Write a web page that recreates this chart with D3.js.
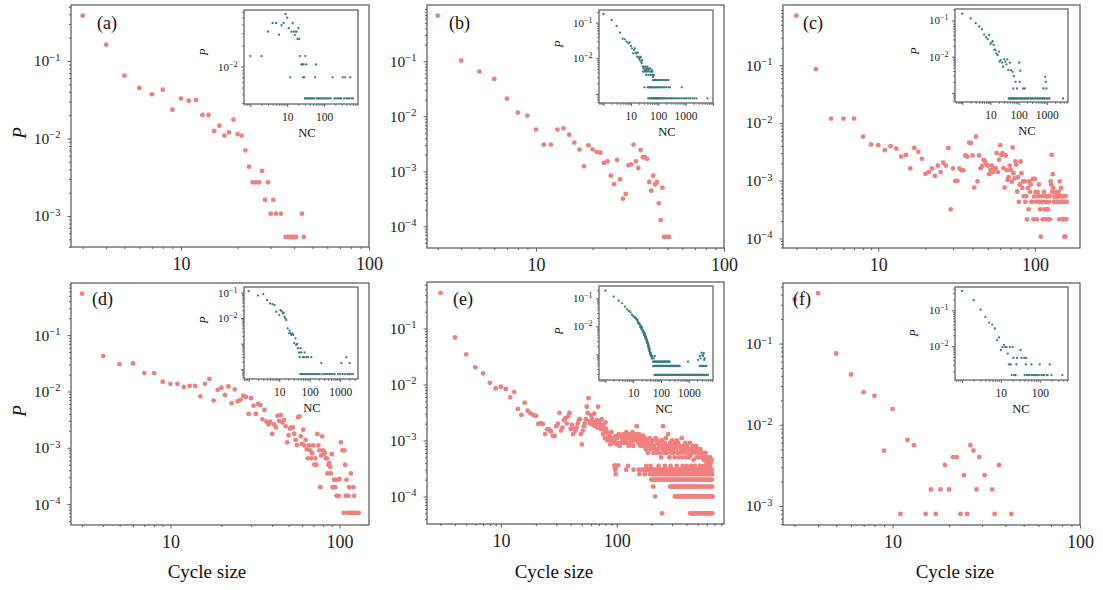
<!DOCTYPE html>
<html>
<head>
<meta charset="utf-8">
<script src="https://d3js.org/d3.v7.min.js"></script>
<style>
  body { margin: 0; background: #fff; }
  svg, svg text { font-family: "Liberation Serif", "DejaVu Serif", "Times New Roman", serif; }
</style>
</head>
<body>
<svg id="chart" width="1103" height="590" font-family="Liberation Serif, DejaVu Serif, serif"></svg>
<script>
// ---- data: [cycle size, P] for the main panels, [NC, P] for the insets ----
const aMain = [[3,.385],[4,.163],[5,.0647],[6,.0449],[7,.0372],[8,.0427],[9,.0235],[10,.0327],[11,.0307],[12,.0314],[13,.0201],[14,.0201],[15,.0125],[16,.0146],[17,.0109],[18,.012],[19,.0175],[20,.0114],[21,.0109],[22,.00703],[23,.00433],[24,.00272],[25,.00272],[26,.00272],[27,.00381],[28,.00161],[29,.00272],[30,.00107],[31,.00161],[32,.00107],[34,.00107],[36,.000536],[37,.000536],[38,.000536],[39,.000536],[40,.000536],[41,.000536],[44,.00107],[45,.000536]];

const bMain = [[3,.676],[4,.103],[5,.0649],[6,.0477],[7,.0209],[8,.0117],[9,.0103],[10,.00573],[11,.00306],[12,.00306],[13,.00573],[14,.00605],[15,.00464],[16,.00332],[17,.00248],[18,.00123],[19,.00297],[20,.00251],[21,.00225],[22,.00218],[23,.00142],[24,.00152],[25,.000834],[26,.000581],[27,.00161],[28,.000716],[29,.000318],[30,.000387],[31,.00129],[32,.00134],[33,.00306],[34,.00152],[35,.00115],[36,.00244],[37,.0018],[38,.0018],[39,.00168],[40,.00064],[41,.000445],[42,.000834],[43,.000581],[44,.00064],[45,.000262],[46,.00013],[47,.000504],[48,.000064],[49,.000064],[50,.000064],[51,.000064]];

const cMain = [[3,.72],[4,.0853],[5,.0119],[6,.0119],[7,.0119],[8,.00582],[9,.00424],[10,.00412],[11,.00338],[12,.00396],[13,.0036],[14,.00262],[15,.0028],[16,.00163],[17,.0037],[18,.00316],[19,.00239],[20,.00131],[21,.00141],[22,.00163],[23,.00121],[24,.00183],[25,.00141],[26,.00205],[27,.00183],[28,.0037],[29,.00032],[30,.00163],[31,.00099],[32,.00099],[33,.00163],[34,.00151],[35,.00151],[36,.00273],[37,.00262],[38,.00458],[39,.00447],[40,.00273],[41,.00076],[42,.0058],[43,.00097],[44,.00273],[45,.00165],[46,.0018],[47,.0023],[48,.00215],[49,.0019],[50,.00183],[51,.0013],[52,.00154],[53,.00183],[54,.00141],[55,.00165],[56,.00165],[57,.003],[58,.00141],[59,.0023],[60,.00412],[61,.0028],[62,.003],[63,.00165],[64,.00076],[65,.00273],[66,.00154],[67,.00103],[68,.00115],[69,.00183],[70,.00154],[71,.00096],[72,.00376],[73,.00135],[74,.0011],[75,.00215],[76,.0019],[77,.00065],[78,.00115],[79,.00043],[80,.00086],[81,.00215],[82,.00135],[83,.00075],[84,.00097],[85,.00054],[86,.00097],[87,.00043],[88,.00054],[89,.000214],[90,.00075],[91,.00032],[92,.00097],[93,.00064],[94,.00086],[95,.00043],[96,.00043],[97,.00107],[98,.000214],[99,.000535],[100,.00107],[101,.00064],[102,.00043],[103,.000214],[104,.00064],[105,.00054],[106,.00086],[107,.00043],[108,.00032],[109,.000107],[110,.00043],[111,.00054],[112,.000214],[113,.00043],[114,.00064],[115,.00032],[116,.00054],[117,.000214],[118,.00043],[119,.00032],[120,.000535],[121,.00032],[122,.000214],[123,.00043],[124,.00054],[125,.000214],[126,.00097],[127,.00086],[128,.0028],[129,.00064],[130,.0013],[131,.00075],[132,.00043],[133,.000535],[134,.00043],[135,.00054],[136,.000535],[137,.00064],[138,.00043],[139,.000535],[140,.00043],[141,.000535],[142,.00064],[143,.000214],[144,.00097],[145,.00054],[146,.00043],[147,.00075],[148,.00043],[149,.00054],[150,.000214],[151,.00043],[152,.00054],[153,.000214],[154,.000107],[155,.00043],[156,.000107],[157,.00054],[158,.00043],[159,.000214],[160,.00043]];

const dMain = [[3,.547],[4,.0425],[5,.0306],[6,.0315],[7,.0212],[8,.0212],[9,.0149],[10,.0137],[11,.0137],[12,.012],[13,.0125],[14,.0125],[15,.0082],[16,.0137],[17,.0168],[18,.0069],[19,.0107],[20,.0117],[21,.0087],[22,.0123],[23,.0062],[24,.0109],[25,.0067],[26,.0071],[27,.0084],[28,.008],[29,.004],[30,.0076],[31,.0056],[32,.004],[33,.006],[34,.0057],[35,.0032],[36,.0047],[37,.0029],[38,.0026],[39,.0029],[40,.00176],[41,.0026],[42,.0023],[43,.0037],[44,.003],[45,.0038],[46,.0028],[47,.0031],[48,.0024],[49,.00125],[50,.00167],[51,.0022],[52,.0023],[53,.0023],[54,.00176],[55,.00138],[56,.00112],[57,.0035],[58,.0036],[59,.0016],[60,.00117],[61,.0021],[62,.0011],[63,.00138],[64,.00094],[65,.00065],[66,.0011],[67,.0009],[68,.00065],[69,.0008],[70,.0011],[71,.0005],[72,.00065],[73,.0005],[74,.00176],[75,.0011],[76,.0009],[77,.0002],[78,.00073],[79,.0016],[80,.0009],[81,.00077],[82,.00082],[83,.00065],[84,.00065],[85,.00035],[86,.0005],[87,.00054],[88,.00046],[89,.00035],[90,.00077],[91,.0002],[92,.0002],[93,.00027],[94,.0002],[95,.00027],[96,.00014],[97,.00027],[99,.00014],[100,.00028],[102,.00125],[104,.0009],[106,.00007],[107,.0009],[108,.0005],[109,.00014],[110,.00027],[111,.00014],[112,.00007],[113,.00014],[114,.0002],[115,.00007],[117,.00035],[118,.00007],[120,.00007],[121,.0002],[122,.00014],[123,.00007],[126,.00007],[130,.00007]];

const eHead = [[3,.432],[4,.069],[5,.0344],[6,.0202],[7,.0158],[8,.0107],[9,.0085],[10,.0091],[11,.0083],[12,.0059],[13,.0073],[14,.00365],[15,.00285],[16,.00473],[17,.0034],[18,.00305],[19,.00285],[20,.00274],[21,.00197],[22,.00203],[23,.00197],[24,.0013],[25,.00158],[26,.00158],[27,.00145],[28,.00121],[29,.0012],[30,.0018],[31,.002],[32,.0031],[33,.0015],[34,.0017],[35,.0023],[36,.0025],[37,.002],[38,.0027],[39,.0031],[40,.0016],[41,.0019],[42,.0013],[43,.0016],[44,.0015],[45,.0017],[46,.002],[47,.0023],[48,.0024],[49,.0013],[50,.00085],[51,.0015],[52,.0018],[53,.002],[54,.0024],[55,.004],[56,.0031],[57,.0057],[58,.0022],[59,.002],[60,.0028],[61,.0024],[62,.0019],[63,.0021],[64,.003],[65,.0018],[66,.0021],[67,.0023],[68,.0017],[69,.004],[70,.002],[71,.0022],[72,.0019],[73,.0016],[74,.0024],[75,.0019],[76,.0013],[77,.0018],[78,.0015],[79,.0011],[80,.0021],[81,.0016],[82,.0014],[83,.001],[84,.0013],[85,.0011],[86,.0012],[88,.00085],[89,.001],[90,.0014],[91,.0011],[93,.00092],[95,.001],[96,.00036],[97,.00031],[98,.0012],[99,.0009],[100,.00085]];

const eTail = [[101,.0011],[103,.00036],[104,.0013],[106,.0008],[107,.0009],[109,.0012],[111,.0011],[113,.001],[114,.0013],[116,.0009],[117,.0012],[119,.001],[121,.0014],[122,.0011],[124,.0009],[126,.0012],[127,.0008],[129,.0011],[131,.0013],[132,.001],[134,.0009],[136,.0012],[137,.0014],[139,.0008],[141,.0011],[143,.001],[145,.0013],[147,.0012],[149,.0018],[151,.001],[153,.0011],[154,.0009],[156,.0013],[158,.001],[160,.0008],[162,.0012],[164,.0011],[166,.0009],[168,.001],[170,.0012],[172,.0008],[174,.00095],[177,.0011],[179,.0007],[181,.0009],[183,.001],[186,.0006],[188,.0008],[190,.00085],[193,.0011],[196,.0007],[198,.0009],[201,.00075],[204,.001],[207,.0006],[210,.0008],[213,.0007],[216,.0011],[219,.0006],[222,.0009],[225,.001],[228,.0007],[232,.0008],[235,.0006],[238,.0009],[242,.0005],[245,.001],[249,.0007],[251,.0018],[253,.0008],[257,.0006],[260,.0009],[263,.0007],[266,.0011],[270,.0006],[274,.0008],[278,.0013],[281,.0007],[285,.0005],[289,.0009],[293,.0006],[297,.0008],[301,.001],[305,.0007],[309,.0006],[313,.0009],[317,.0005],[322,.0008],[326,.0007],[330,.001],[335,.0006],[339,.0009],[344,.0005],[349,.0008],[354,.0006],[359,.0007],[364,.0011],[369,.0005],[374,.0008],[380,.0006],[386,.0007],[391,.0009],[397,.0005],[403,.0008],[409,.0006],[415,.0007],[421,.0005],[428,.0009],[434,.00055],[441,.0007],[448,.0006],[455,.0008],[462,.00045],[469,.0007],[477,.0006],[485,.0008],[493,.0005],[501,.0007],[509,.0006],[518,.0005],[527,.0007],[536,.0006],[545,.0005],[555,.0006],[565,.00045],[575,.0005],[585,.0006],[596,.0004],[607,.0005],[618,.00045],[629,.0004],[640,.0005],[651,.0004],[662,.00045]];

// low-count rows of panel (e): one P level each, with the sizes that sit on it
const eRowP = [5e-5, 1e-4, 1.5e-4, 2e-4, 2.5e-4, 3e-4, 3.5e-4];
const eRowSizes = [
  [246,430,437,444,451,460,468,478,488,499,510,522,535,551,563,578,592,608,622,638,655,670],
  [215,318,327,335,344,352,360,368,376,385,393,402,414,425,436,447,457,466,477,490,507,525,542,560,578,597,617,638,659,675],
  [207,290,297,303,311,317,324,333,340,347,356,363,371,381,389,397,408,421,430,442,451,463,473,485,499,512,531,548,566,586,604,624,645,668],
  [199,205,212,218,226,232,240,248,256,264,273,282,291,300,309,319,329,339,350,361,372,384,396,409,422,436,450,465,480,496,512,529,546,564,583,602,622,642,663],
  [98,157,175,194,201,209,216,224,231,239,247,255,263,271,280,289,298,307,316,326,336,346,357,368,379,391,403,415,428,441,454,468,482,497,512,527,543,559,576,593,611,629,648,667],
  [97,120,140,155,163,170,178,186,193,200,208,215,223,230,238,246,254,262,270,279,288,297,306,315,325,335,345,355,366,377,389,401,413,426,439,452,466,480,495,510,525,541,557,574,591,609,627,646,665],
  [96,125,180,196,230,260,292,330,371,402,440,472,520,561,600,640]
];

const fMain = [[3,.351],[4,.416],[5,.0754],[6,.0416],[7,.0252],[8,.0227],[9,.0048],[10,.0156],[11,.0008],[12,.0065],[13,.0056],[15,.0008],[16,.0016],[17,.0008],[18,.0016],[19,.0032],[20,.0016],[21,.004],[22,.004],[23,.0008],[24,.0024],[25,.0008],[26,.0056],[27,.0048],[28,.0016],[29,.004],[31,.0024],[34,.0016],[35,.0008],[37,.0032],[43,.0008]];

// insets: scattered points plus rows of equal P
const aInset = [[1,.0141],[2,.0141],[3,.0314],[4,.0418],[5,.0418],[6,.0284],[7,.0388],[8,.0418],[9,.0562],[10,.0498],[11,.0352],[12,.007],[13,.0314],[14,.0418],[15,.0314],[16,.0282],[17,.0314],[18,.0314],[19,.0247],[20,.0352],[21,.0247],[22,.0141],[31,.0141],[24,.0107],[26,.0107],[28,.0107],[33,.0107],[60,.0107],[27,.007],[29,.007],[57,.007],[170,.007],[320,.007],[370,.007],[510,.007]];
const aInsetRows = [[.0035,[30,32,35,37,40,43,46,50,54,63,67,72,78,85,92,100,110,120,135,150,190,210,240,270,290,350,400,440,480,550,600]]];

const bInset = [[1,.175],[2,.119],[3,.0806],[4,.0523],[5,.0355],[6,.034],[7,.0293],[8,.0263],[9,.028],[10,.0221],[11,.019],[12,.0138],[13,.0171],[14,.019],[15,.0144],[16,.0138],[17,.0111],[18,.0144],[19,.0106],[20,.01],[21,.0089],[22,.0111],[23,.0106],[24,.008],[25,.0072],[26,.0089],[27,.0058],[28,.0042],[29,.0052],[30,.0058],[32,.0047],[33,.0042],[34,.0058],[35,.0047],[36,.0034],[37,.0052],[38,.0047],[39,.0042],[40,.0058],[42,.0052],[44,.0034],[45,.0047],[47,.0042],[50,.0052],[52,.0034],[55,.0042],[58,.0047],[60,.0034],[62,.0042],[65,.003],[70,.0034]];
const bInsetRows = [
  [.00245,[64,68,75,82,90,100,110,125,140,160,185,210,234]],
  [.00153,[31,41,46,49,53,56,61,67,72,78,86,95,105,118,130,150,170,200,240,270,724]],
  [.00075,[43,48,51,54,59,63,66,69,73,77,80,84,88,92,97,103,108,115,122,135,145,155,165,180,195,220,250,280,310,350,400,450,520,600,700,820,950,1100,1300,1500,1800,2100,2500,6300]]
];

const cInset = [[1,.153],[2,.114],[3,.0843],[4,.068],[5,.0574],[6,.0408],[7,.0344],[8,.0303],[9,.04],[10,.0225],[11,.0245],[12,.0267],[13,.0211],[14,.0153],[15,.0153],[16,.0124],[18,.0111],[20,.0138],[21,.00726],[23,.00807],[26,.00681],[28,.00527],[31,.00843],[34,.00726],[37,.00612],[40,.00843],[43,.00427],[49,.00681],[53,.00427],[61,.00383],[68,.0029],[78,.00202],[89,.00132],[105,.00681],[115,.00408],[110,.00202],[65,.00132],[145,.00132],[166,.00132],[880,.00278],[920,.00202],[760,.00132],[970,.00132]];
const cInsetRows = [[.0007,[45,48,52,55,58,63,66,71,75,82,86,93,100,108,118,125,135,150,160,175,190,210,230,260,290,320,360,400,450,500,560,620,680,740,800,860,1000,1100,1250,3800]]];

const dInset = [[1,.113],[2,.0764],[3,.0861],[4,.0503],[5,.0374],[6,.0352],[7,.0321],[8,.0177],[10,.0131],[11,.0205],[12,.0188],[13,.0152],[14,.0162],[15,.0113],[16,.00973],[17,.00838],[19,.00397],[21,.00254],[22,.00322],[24,.00254],[25,.00219],[27,.00254],[29,.00219],[31,.00104],[34,.00162],[36,.00089],[39,.00098],[41,.00066],[45,.00045],[50,.00066],[53,.00045],[60,.000296],[65,.000296],[68,.00045],[78,.000296],[88,.000296],[113,.000296],[47,.000296],[241,.000173],[1093,.000173],[1600,.000296],[2050,.000173]];
const dInsetRows = [[6.45e-5,[49,55,58,62,70,75,82,95,105,120,135,150,170,190,215,260,300,340,390,440,500,570,660,850,1000,1200,1400,1700,2000,2300,2630]]];

const eInset = [[1,.188],[2,.115],[3,.0826],[4,.0663],[5,.0504],[6,.0404],[7,.0353],[8,.0316],[9,.0261],[10,.0234],[11,.021],[12,.0195],[13,.0178],[14,.016],[15,.0147],[16,.0128],[17,.0115],[18,.0103],[19,.0092],[20,.0085],[21,.0078],[22,.0072],[23,.00645],[24,.006],[25,.00562],[26,.0048],[27,.0045],[28,.00427],[29,.0037],[30,.00343],[31,.0031],[32,.00283],[33,.0025],[34,.00215],[35,.002],[36,.0018],[37,.00164],[38,.0015],[39,.00135],[40,.0012],[41,.00115],[42,.00109],[43,.001],[44,.00095],[45,.00087],[47,.00087],[48,.00072],[50,.00072],[12,.021],[14,.0178],[15,.0128],[17,.0128],[18,.0092],[19,.0103],[20,.0078],[21,.0092],[22,.0064],[23,.0072],[24,.0052],[25,.0048],[26,.0056],[27,.0039],[28,.0037],[29,.0043],[30,.0029],[31,.0034],[32,.0025],[33,.0028],[34,.0019],[35,.0023],[36,.0015],[37,.0019],[38,.0013],[39,.0016],[40,.00109],[42,.00095],[43,.00115],[44,.00087],[46,.00072],[49,.00087],[55,.00072],[60,.00087],[2180,.000628],[2510,.00087],[2700,.00072],[2890,.00115],[3100,.00095],[3330,.00087],[3500,.00109],[3780,.00072],[3600,.00063],[942,.000547]];
const eInsetRows = [
  [.000547,[52,55,58,61,64,68,72,76,80,85,90,96,102,108,115,122,130,138,147,156,166,176,187,198,207]],
  [.000383,[53,56,59,63,67,71,75,79,84,89,94,100,106,112,119,126,134,142,150,160,170,180,191,203,215,228,242,257,272,290,308,327,347,368,390,414,440,473,2500,2800,3100,3400,3800,4300]],
  [.000183,[59,64,68,73,78,84,90,97,103,111,120,128,138,149,160,172,185,198,213,230,246,265,285,306,330,355,380,410,440,475,510,548,590,633,680,732,786,845,910,978,1050,1130,1215,1306,1404,1510,1622,1745,1876,2016,2168,2330,2505,2693,2895,3112,3345,3597,3866,4156,4468,4960]]
];

const fInset = [[1,.344],[2,.19],[3,.104],[4,.0653],[5,.0454],[6,.04],[7,.031],[8,.0147],[9,.0174],[10,.0078],[11,.0094],[12,.0109],[13,.0094],[14,.0094],[15,.0062],[17,.0094],[20,.0094],[21,.0047],[26,.0047],[32,.0078],[34,.0047],[40,.0047],[45,.0047]];
const fInsetRows = [
  [.0031,[16,18,25,44,61,100,180]],
  [.00156,[19,22,23,24,41,47,50,55,62,67,72,76,81,90,95,110,122,130,154,160,199,382]]
];

// ---- layout (pixel frames and log domains) ----
const panels = [
  {tag:"(a)", main:[aMain], inset:aInset, irows:aInsetRows, fx:[71,369], fy:[5,247], xd:[2.6,100], yd:[0.528,3.98e-4],
   ix:[244,358], iy:[10,104], ixd:[0.673,828], iyd:[0.0641,0.00291], tagPos:[97,29], ncX:307, pPos:[204,52], yTitle:true},
  {tag:"(b)", main:[bMain], inset:bInset, irows:bInsetRows, fx:[427,724], fy:[5,248], xd:[2.63,100], yd:[1.056,4.03e-5],
   ix:[599,713], iy:[10,103], ixd:[0.687,10000], iyd:[0.227,5.55e-4], tagPos:[449,29], ncX:667, pPos:[559,44]},
  {tag:"(c)", main:[cMain], inset:cInset, irows:cInsetRows, fx:[783,1080], fy:[5,248], xd:[2.465,194], yd:[1.105,6.83e-5],
   ix:[955,1068], iy:[9,102], ixd:[0.553,5680], iyd:[0.207,5.6e-4], tagPos:[803,29], ncX:1027, pPos:[915,51]},
  {tag:"(d)", main:[dMain], inset:dInset, irows:dInsetRows, fx:[71,369], fy:[283,525], xd:[2.58,149.5], yd:[0.845,4.25e-5],
   ix:[244,358], iy:[287,379], ixd:[0.70,3840], iyd:[0.165,4.12e-5], tagPos:[92,305], ncX:312, pPos:[204,320], yTitle:true, xTitle:207},
  {tag:"(e)", main:[eHead, eTail], rows:[eRowP, eRowSizes], inset:eInset, irows:eInsetRows, fx:[427,724], fy:[282,524], xd:[2.293,845], yd:[0.676,3.22e-5],
   ix:[599,713], iy:[286,380], ixd:[0.586,7510], iyd:[0.275,1.21e-4], tagPos:[453,305], ncX:664, pPos:[559,331], xTitle:554},
  {tag:"(f)", main:[fMain], inset:fInset, irows:fInsetRows, fx:[783,1080], fy:[283,525], xd:[2.6,100], yd:[0.556,5.84e-4],
   ix:[955,1068], iy:[287,380], ixd:[0.662,532], iyd:[0.444,1.14e-3], tagPos:[793,305], ncX:1021, pPos:[914,333], xTitle:955}
];

const FONT = "Liberation Serif, DejaVu Serif, serif";
const mainColor = "#f08080";
const insetColor = "#3b7a80";
const svg = d3.select("#chart");

function logTicks(domain, maxExp) {
  const lo = d3.min(domain), hi = d3.max(domain);
  const major = [], minor = [];
  for (let e = Math.floor(Math.log10(lo)); e <= Math.ceil(Math.log10(hi)); e++) {
    const b = Math.pow(10, e);
    if (b >= lo && b <= hi && (maxExp === undefined || e <= maxExp)) major.push(b);
    for (let k = 2; k < 10; k++) { const v = k * b; if (v >= lo && v <= hi) minor.push(v); }
  }
  return {major, minor};
}

function drawAxes(g, x, y, o) {
  const xt = logTicks(x.domain()), yt = logTicks(y.domain(), o.yMaxExp);
  const bottom = y.range()[1], left = x.range()[0];
  const style = sel => {
    sel.attr("font-family", FONT).attr("font-size", null).attr("color", "#222");
    sel.select(".domain").remove();
    sel.selectAll(".tick line").attr("stroke", "#333").attr("stroke-width", 0.8);
  };
  g.append("g").attr("transform", `translate(0,${bottom})`)
    .call(d3.axisBottom(x).tickValues(xt.minor).tickSize(o.min).tickFormat("")).call(style);
  g.append("g").attr("transform", `translate(0,${bottom})`)
    .call(d3.axisBottom(x).tickValues(xt.major).tickSize(o.maj).tickPadding(o.xpad)
      .tickFormat(d => o.xLabels.includes(Math.round(d)) ? String(Math.round(d)) : ""))
    .call(style)
    .selectAll("text").attr("font-size", o.xFont);
  g.append("g").attr("transform", `translate(${left},0)`)
    .call(d3.axisLeft(y).tickValues(yt.minor).tickSize(o.min).tickFormat("")).call(style);
  const ya = g.append("g").attr("transform", `translate(${left},0)`)
    .call(d3.axisLeft(y).tickValues(yt.major).tickSize(o.maj).tickPadding(o.ypad).tickFormat(""))
    .call(style);
  ya.selectAll(".tick text").attr("font-size", o.yFont).each(function(d) {
    const e = Math.round(Math.log10(d));
    if (!o.yLabels.includes(e)) return;
    const t = d3.select(this);
    t.append("tspan").text("10");
    t.append("tspan").attr("font-size", o.supFont).attr("dy", -o.supRise).text("\u2212" + Math.abs(e));
  });
}

panels.forEach(p => {
  const g = svg.append("g").attr("font-family", FONT);
  const x = d3.scaleLog().domain(p.xd).range(p.fx);
  const y = d3.scaleLog().domain(p.yd).range(p.fy);

  drawAxes(g, x, y, {maj: 3.5, min: 2, xpad: 6.5, ypad: 7, xFont: 18, yFont: 15.5, supFont: 10.5, supRise: 5.5,
    xLabels: [10, 100], yLabels: [-1, -2, -3, -4], yMaxExp: -1});

  const pts = p.main.flat();
  if (p.rows) p.rows[1].forEach((sizes, i) => sizes.forEach(s => pts.push([s, p.rows[0][i]])));
  g.append("g").selectAll("circle").data(pts).join("circle")
    .attr("cx", d => x(d[0])).attr("cy", d => y(d[1])).attr("r", 2.4).attr("fill", mainColor);

  g.append("rect").attr("x", p.fx[0]).attr("y", p.fy[0])
    .attr("width", p.fx[1] - p.fx[0]).attr("height", p.fy[1] - p.fy[0])
    .attr("fill", "none").attr("stroke", "#555").attr("stroke-width", 1.2);

  g.append("text").attr("x", p.tagPos[0]).attr("y", p.tagPos[1]).attr("font-family", FONT)
    .attr("font-size", 18).attr("fill", "#111").text(p.tag);

  if (p.yTitle) {
    g.append("text").attr("transform", `translate(19,${(p.fy[0] + p.fy[1]) / 2 + 7}) rotate(-90)`)
      .attr("text-anchor", "middle").attr("dy", "0.35em").attr("font-size", 19).attr("font-family", FONT)
      .attr("font-style", "italic").attr("fill", "#111").text("P");
  }
  if (p.xTitle) {
    g.append("text").attr("x", p.xTitle).attr("y", 578).attr("text-anchor", "middle").attr("font-family", FONT)
      .attr("font-size", 19).attr("fill", "#111").text("Cycle size");
  }

  // inset
  const gi = g.append("g");
  const xi = d3.scaleLog().domain(p.ixd).range(p.ix);
  const yi = d3.scaleLog().domain(p.iyd).range(p.iy);
  gi.append("rect").attr("x", p.ix[0]).attr("y", p.iy[0])
    .attr("width", p.ix[1] - p.ix[0]).attr("height", p.iy[1] - p.iy[0]).attr("fill", "#fff");
  drawAxes(gi, xi, yi, {maj: 3, min: 1.8, xpad: 5.5, ypad: 3.5, xFont: 11.5, yFont: 11, supFont: 8, supRise: 4,
    xLabels: [10, 100, 1000], yLabels: [-1, -2]});
  const ipts = p.inset.slice();
  p.irows.forEach(r => r[1].forEach(nc => ipts.push([nc, r[0]])));
  gi.append("g").selectAll("circle").data(ipts).join("circle")
    .attr("cx", d => xi(d[0])).attr("cy", d => yi(d[1])).attr("r", 1.15).attr("fill", insetColor);
  gi.append("rect").attr("x", p.ix[0]).attr("y", p.iy[0])
    .attr("width", p.ix[1] - p.ix[0]).attr("height", p.iy[1] - p.iy[0])
    .attr("fill", "none").attr("stroke", "#707070").attr("stroke-width", 1.4);
  gi.append("text").attr("x", p.ncX).attr("y", p.iy[1] + 33).attr("text-anchor", "middle").attr("font-family", FONT)
    .attr("font-size", 12.5).attr("fill", "#111").text("NC");
  gi.append("text").attr("transform", `translate(${p.pPos[0]},${p.pPos[1]}) rotate(-90)`)
    .attr("text-anchor", "middle").attr("dy", "0.35em").attr("font-size", 12).attr("font-family", FONT)
    .attr("font-style", "italic").attr("fill", "#111").text("P");
});
</script>
</body>
</html>
